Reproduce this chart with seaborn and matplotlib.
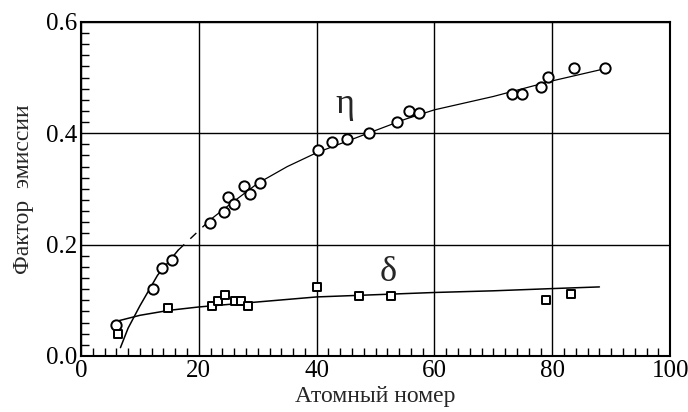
import numpy as np
import pandas as pd
import matplotlib
matplotlib.use("Agg")
import matplotlib.pyplot as plt
import seaborn as sns
from matplotlib.ticker import MultipleLocator, FormatStrFormatter

# measured points: eta (backscatter), delta (secondary emission)
eta_z = [6, 12.2, 13.8, 15.5, 21.9, 24.2, 24.9, 26.0, 27.6, 28.7, 30.4, 40.3, 42.6, 45.1,
         48.9, 53.7, 55.7, 57.4, 73.2, 74.9, 78.1, 79.3, 83.7, 89.0]
eta_val = [0.055, 0.120, 0.158, 0.173, 0.239, 0.259, 0.286, 0.273, 0.306, 0.291, 0.311, 0.370,
           0.385, 0.389, 0.401, 0.420, 0.440, 0.437, 0.471, 0.471, 0.483, 0.501, 0.518, 0.518]
delta_z = [6.3, 14.7, 22.2, 23.3, 24.4, 26.2, 27.2, 28.3, 40.1, 47.2, 52.6, 79.0, 83.2]
delta_val = [0.040, 0.087, 0.090, 0.099, 0.110, 0.099, 0.099, 0.090, 0.123, 0.108, 0.108, 0.100, 0.112]

# fitted curves
eta_fit_z = [6.7, 8, 10, 13, 16.5, 19, 22, 25, 30, 35, 40, 45, 50, 55, 60, 70, 80, 89]
eta_fit_y = [0.015, 0.050, 0.090, 0.145, 0.190, 0.215, 0.245, 0.270, 0.310, 0.340, 0.365,
             0.385, 0.405, 0.425, 0.442, 0.466, 0.494, 0.516]
delta_fit_z = [6.3, 10, 15, 20, 30, 40, 50, 60, 70, 80, 88]
delta_fit_y = [0.063, 0.073, 0.082, 0.088, 0.097, 0.106, 0.110, 0.114, 0.117, 0.121, 0.124]

sns.set_style("white")
plt.rcParams["font.family"] = ["Liberation Serif", "DejaVu Serif"]

fig = plt.figure(figsize=(6.88, 4.12), dpi=100)
ax = fig.add_axes([0.1177, 0.136, 0.8563, 0.811])

fit = pd.DataFrame({"z": eta_fit_z, "y": eta_fit_y})
solid1 = fit[fit.z <= 16.5]
dashed = fit[(fit.z >= 16.5) & (fit.z <= 22)]
solid2 = fit[fit.z >= 22]
sns.lineplot(data=solid1, x="z", y="y", color="black", lw=1.1, ax=ax)
sns.lineplot(data=dashed, x="z", y="y", color="black", lw=1.0, ax=ax,
             linestyle=(0, (6, 6)))
sns.lineplot(data=solid2, x="z", y="y", color="black", lw=0.9, ax=ax)
sns.lineplot(x=delta_fit_z, y=delta_fit_y, color="black", lw=1.1, ax=ax)

sns.scatterplot(x=eta_z, y=eta_val, marker="o", s=55, facecolor="white",
                edgecolor="black", linewidth=1.4, ax=ax, zorder=5)
sns.scatterplot(x=delta_z, y=delta_val, marker="s", s=28, facecolor="white",
                edgecolor="black", linewidth=1.4, ax=ax, zorder=5)

ax.text(44.8, 0.452, "η", fontsize=26, ha="center", va="center")
ax.text(52.1, 0.150, "δ", fontsize=26, ha="center", va="center")

ax.set_xlim(0, 100)
ax.set_ylim(0, 0.6)
ax.xaxis.set_major_locator(MultipleLocator(20))
ax.xaxis.set_minor_locator(MultipleLocator(2))
ax.yaxis.set_major_locator(MultipleLocator(0.2))
ax.yaxis.set_minor_locator(MultipleLocator(0.02))
ax.yaxis.set_major_formatter(FormatStrFormatter("%.1f"))
ax.xaxis.set_major_formatter(FormatStrFormatter("%d"))
ax.tick_params(which="both", direction="in", bottom=True, left=True, top=False, right=False,
               colors="black", labelsize=18, width=1.0)
ax.tick_params(which="major", length=0, pad=3)
ax.tick_params(which="minor", length=6)
ax.grid(True, which="major", color="black", lw=1.0)
for sp in ax.spines.values():
    sp.set_color("black")
    sp.set_linewidth(1.5)

ax.set_xlabel("Атомный номер", fontsize=17, labelpad=3)
ax.set_ylabel("Фактор  эмиссии", fontsize=17, labelpad=8)

fig.savefig("out.png", dpi=100)
